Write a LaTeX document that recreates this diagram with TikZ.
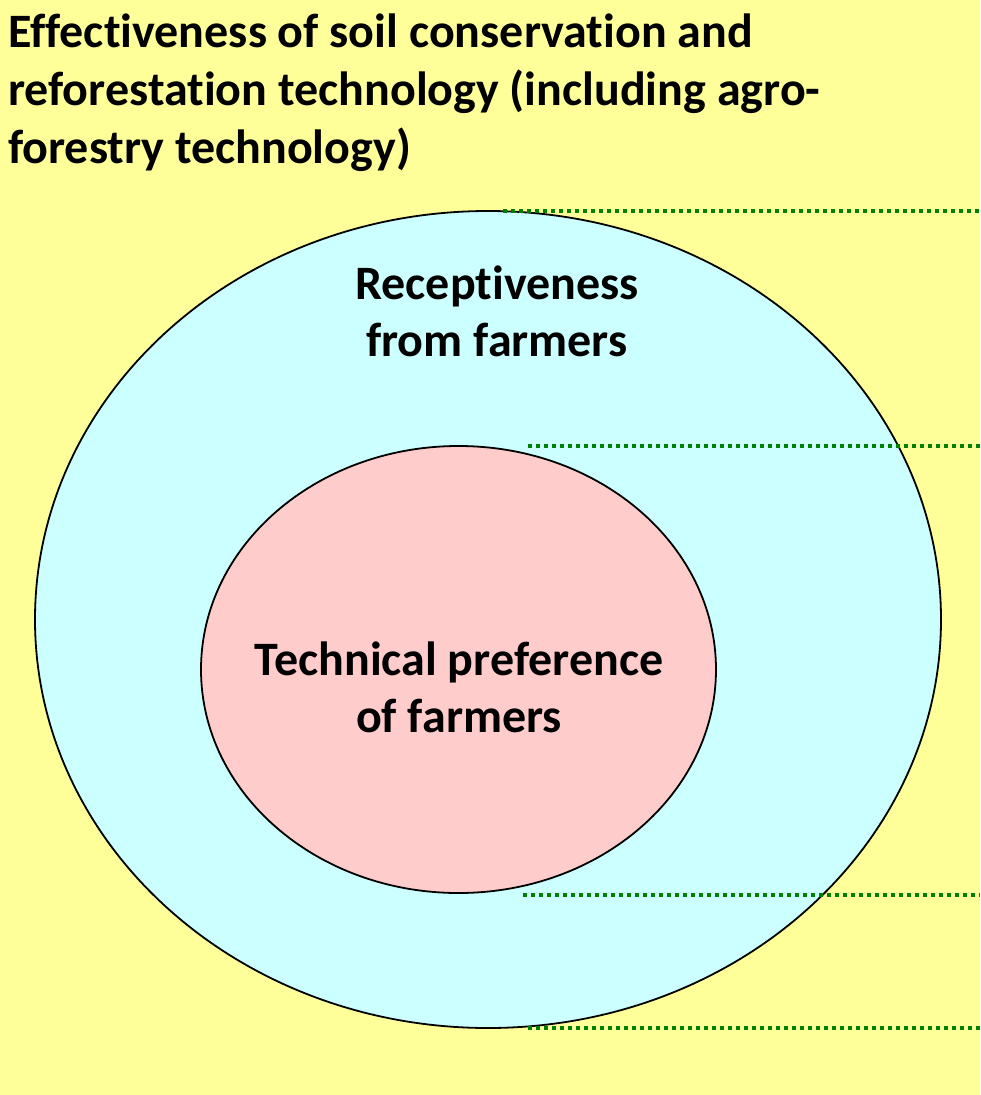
\documentclass[tikz,border=0pt]{standalone}
\usepackage{fontspec}
\setmainfont[Ligatures=NoCommon]{Carlito}
\usetikzlibrary{shapes.geometric}
\definecolor{bgyellow}{HTML}{FFFF99}
\definecolor{outercyan}{HTML}{CCFFFF}
\definecolor{innerpink}{HTML}{FFCCCC}
\definecolor{dotgreen}{HTML}{008000}
\tikzset{
  x=1pt,y=-1pt,
  region/.style={ellipse,draw=black,line width=1.8pt,inner sep=0pt},
  guide/.style={draw=dotgreen,line width=3.8pt,dash pattern=on 4pt off 4pt},
  lbl/.style={align=center,font=\fontsize{48}{57}\selectfont\bfseries,inner sep=0pt},
}
\begin{document}
\begin{tikzpicture}
\fill[bgyellow] (0,0) rectangle (980,1095);
\useasboundingbox (0,0) rectangle (980,1095);
\node[region,fill=outercyan,minimum width=906pt,minimum height=817pt] (outer) at (488,619.5) {};
\node[region,fill=innerpink,minimum width=515pt,minimum height=447pt] (inner) at (458.5,669.5) {};
\node[lbl] (recept) at (497,311.5) {Receptiveness\\from farmers};
\node[lbl] (techpref) at (459,687.5) {Technical preference\\of farmers};
\node[anchor=base west,align=left,inner sep=0pt,font=\fontsize{48}{58}\selectfont\bfseries] (title) at (8,163) {Effectiveness of soil conservation and\\reforestation technology (including agro-\\forestry technology)};
\draw[guide] (503,211) -- (980,211);
\draw[guide] (528,446) -- (980,446);
\draw[guide] (523,895) -- (980,895);
\draw[guide] (528,1028) -- (980,1028);
\end{tikzpicture}
\end{document}
